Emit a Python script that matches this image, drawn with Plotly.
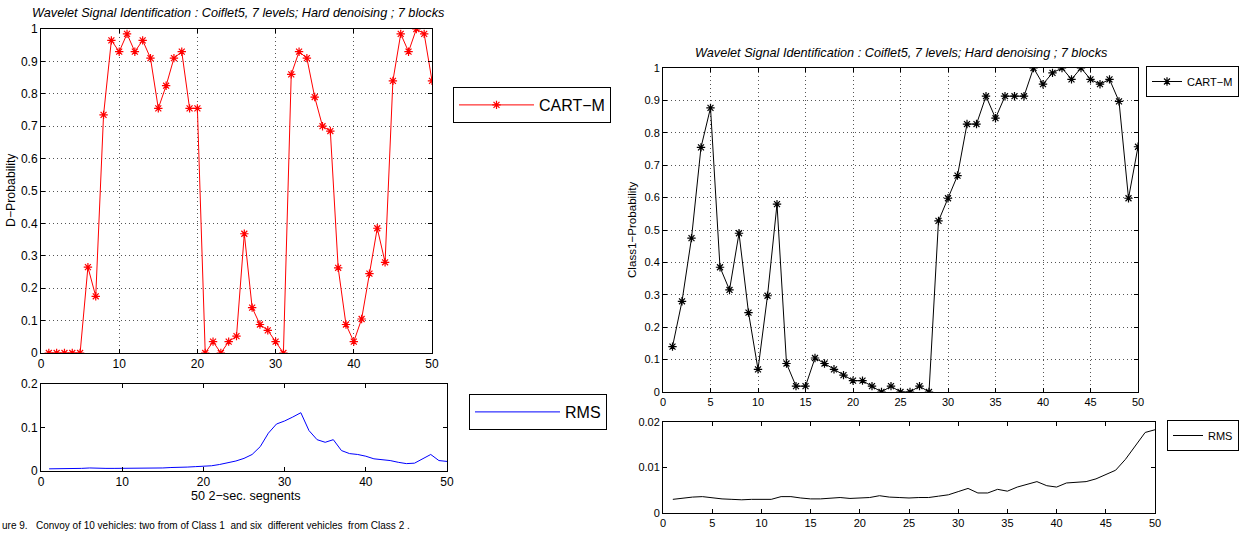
import plotly.graph_objects as go

W, H = 1244, 533
segments = list(range(1, 51))

left_prob = [0, 0, 0, 0, 0, 0.265, 0.175, 0.735, 0.965, 0.93,
             0.985, 0.93, 0.965, 0.91, 0.755, 0.825, 0.91, 0.93, 0.755, 0.755,
             0, 0.035, 0, 0.035, 0.052, 0.368, 0.14, 0.088, 0.07, 0.035,
             0, 0.86, 0.93, 0.91, 0.79, 0.70, 0.685, 0.263, 0.088, 0.035,
             0.105, 0.245, 0.385, 0.28, 0.84, 0.985, 0.93, 1.0, 0.985, 0.84]

left_rms = [0.005, 0.005, 0.005, 0.005, 0.006, 0.007, 0.006, 0.006, 0.006, 0.006,
            0.006, 0.007, 0.007, 0.007, 0.007, 0.008, 0.008, 0.009, 0.010, 0.011,
            0.012, 0.015, 0.019, 0.023, 0.029, 0.038, 0.056, 0.087, 0.108, 0.115,
            0.124, 0.134, 0.093, 0.072, 0.066, 0.072, 0.047, 0.040, 0.038, 0.034,
            0.028, 0.026, 0.024, 0.020, 0.017, 0.018, 0.028, 0.038, 0.024, 0.022]

right_prob = [0.14, 0.28, 0.475, 0.755, 0.877, 0.385, 0.315, 0.49, 0.245, 0.07,
              0.297, 0.58, 0.088, 0.018, 0.018, 0.105, 0.088, 0.07, 0.052, 0.035,
              0.035, 0.018, 0, 0.018, 0, 0, 0.018, 0, 0.528, 0.598,
              0.668, 0.827, 0.827, 0.913, 0.845, 0.913, 0.913, 0.913, 1.0, 0.95,
              0.985, 1.0, 0.965, 1.0, 0.965, 0.95, 0.965, 0.897, 0.598, 0.757]

right_rms = [0.0030, 0.0033, 0.0035, 0.0036, 0.0033, 0.0031, 0.0030, 0.0029, 0.0030, 0.0030,
             0.0030, 0.0036, 0.0036, 0.0033, 0.0031, 0.0031, 0.0033, 0.0034, 0.0032, 0.0033,
             0.0034, 0.0038, 0.0035, 0.0034, 0.0033, 0.0034, 0.0034, 0.0037, 0.0040, 0.0047,
             0.0054, 0.0044, 0.0044, 0.0052, 0.0048, 0.0057, 0.0063, 0.0069, 0.0060, 0.0057,
             0.0066, 0.0067, 0.0069, 0.0075, 0.0085, 0.0094, 0.0118, 0.0147, 0.0177, 0.0183]

title_text = "Wavelet Signal Identification : Coiflet5, 7 levels; Hard denoising ; 7 blocks"
FONT = "Liberation Sans, Arial, sans-serif"


def px(x):
    return x / W


def py(y):
    return 1 - y / H


fig = go.Figure()

fig.add_trace(go.Scatter(
    x=segments, y=left_prob, mode="lines+markers", name="CART−M",
    line=dict(color="red", width=1),
    marker=dict(symbol="asterisk-open", size=7, color="red", line=dict(color="red", width=1.2)),
    xaxis="x", yaxis="y", legend="legend"))

fig.add_trace(go.Scatter(
    x=segments, y=left_rms, mode="lines", name="RMS",
    line=dict(color="blue", width=1),
    xaxis="x2", yaxis="y2", legend="legend2"))

fig.add_trace(go.Scatter(
    x=segments, y=right_prob, mode="lines+markers", name="CART−M",
    line=dict(color="black", width=1),
    marker=dict(symbol="asterisk-open", size=7, color="black", line=dict(color="black", width=1.2)),
    xaxis="x3", yaxis="y3", legend="legend3"))

fig.add_trace(go.Scatter(
    x=segments, y=right_rms, mode="lines", name="RMS",
    line=dict(color="black", width=1),
    xaxis="x4", yaxis="y4", legend="legend4"))

axis_common = dict(showline=True, linecolor="black", linewidth=1, mirror="ticks",
                   ticks="inside", ticklen=4, tickcolor="black", zeroline=False,
                   automargin=False)
grid_on = dict(showgrid=True, gridcolor="#555555", griddash="1px,3px", gridwidth=1)
grid_off = dict(showgrid=False)

fig.update_layout(
    width=W, height=H,
    margin=dict(l=0, r=0, t=0, b=0, autoexpand=False),
    paper_bgcolor="white", plot_bgcolor="white",
    font=dict(family=FONT, color="black"),
    xaxis=dict(domain=[px(41), px(432)], range=[0, 50], tickvals=[0, 10, 20, 30, 40, 50],
               anchor="y", tickfont=dict(size=12), **axis_common, **grid_on),
    yaxis=dict(domain=[py(353), py(29)], range=[0, 1], dtick=0.1, anchor="x",
               tickfont=dict(size=12), **axis_common, **grid_on),
    xaxis2=dict(domain=[px(41), px(447)], range=[0, 50], tickvals=[0, 10, 20, 30, 40, 50],
                anchor="y2", tickfont=dict(size=12), **axis_common, **grid_off),
    yaxis2=dict(domain=[py(471), py(384)], range=[0, 0.2], tickvals=[0, 0.1, 0.2],
                anchor="x2", tickfont=dict(size=12), **axis_common, **grid_off),
    xaxis3=dict(domain=[px(663), px(1138)], range=[0, 50], dtick=5,
                anchor="y3", tickfont=dict(size=11), **axis_common, **grid_on),
    yaxis3=dict(domain=[py(392), py(68)], range=[0, 1], dtick=0.1, anchor="x3",
                tickfont=dict(size=11), **axis_common, **grid_on),
    xaxis4=dict(domain=[px(663), px(1155)], range=[0, 50], dtick=5,
                anchor="y4", tickfont=dict(size=11), **axis_common, **grid_off),
    yaxis4=dict(domain=[py(513), py(422)], range=[0, 0.02], tickvals=[0, 0.01, 0.02],
                anchor="x4", tickfont=dict(size=11), **axis_common, **grid_off),
    legend=dict(x=px(453), y=py(87), xanchor="left", yanchor="top",
                bordercolor="black", borderwidth=1, font=dict(size=16), itemwidth=75),
    legend2=dict(x=px(469), y=py(394), xanchor="left", yanchor="top",
                 bordercolor="black", borderwidth=1, font=dict(size=16), itemwidth=85),
    legend3=dict(x=px(1146), y=py(66), xanchor="left", yanchor="top",
                 bordercolor="black", borderwidth=1, font=dict(size=11), itemwidth=30),
    legend4=dict(x=px(1167), y=py(420), xanchor="left", yanchor="top",
                 bordercolor="black", borderwidth=1, font=dict(size=11), itemwidth=30),
    showlegend=True,
)

annotations = [
    dict(text=title_text, x=px(238), y=py(13), size=12.7, angle=0),
    dict(text=title_text, x=px(901), y=py(53), size=12.7, angle=0),
    dict(text="D−Probability", x=px(11), y=py(190), size=12.3, angle=-90),
    dict(text="Class1−Probability", x=px(632), y=py(230), size=11.6, angle=-90),
    dict(text="50 2−sec. segnents", x=px(246), y=py(496), size=12.6, angle=0),
]
for a in annotations:
    italic = a["text"] == title_text
    fig.add_annotation(
        text=f"<i>{a['text']}</i>" if italic else a["text"],
        x=a["x"], y=a["y"], xref="paper", yref="paper",
        xanchor="center", yanchor="middle", showarrow=False,
        textangle=a["angle"], font=dict(family=FONT, color="black", size=a["size"]))

fig.add_annotation(
    text="ure 9.   Convoy of 10 vehicles: two from of Class 1  and six  different vehicles  from Class 2 .",
    x=0, y=py(525), xref="paper", yref="paper", xanchor="left", yanchor="middle",
    showarrow=False, font=dict(family=FONT, color="black", size=10))

fig.write_html(
    "out.html",
    config={"displayModeBar": False},
    post_script="document.body.style.margin='0';document.body.style.padding='0';"
                "document.body.style.overflow='hidden';",
)
